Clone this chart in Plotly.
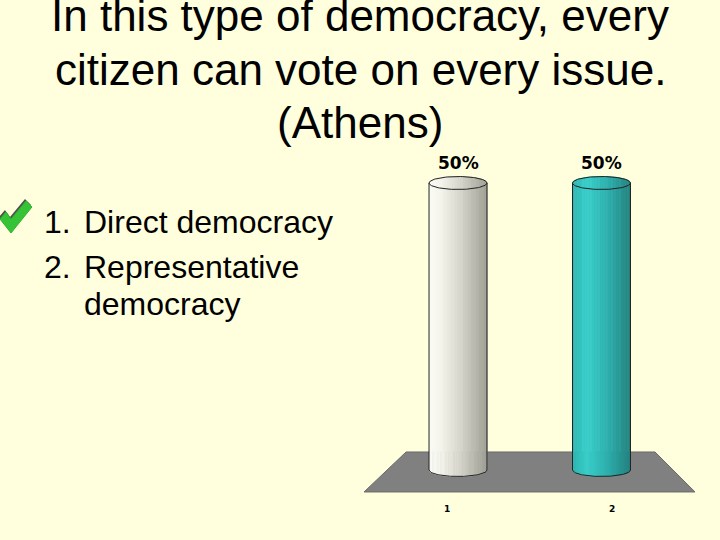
import numpy as np
import plotly.graph_objects as go

# slide content
title_lines = ["In this type of democracy, every",
               "citizen can vote on every issue.",
               "(Athens)"]
answer_nums = ["1.", "2."]
answer_lines = [["Direct democracy"], ["Representative", "democracy"]]

# chart data
categories = [1, 2]
cat_labels = ["1", "2"]
values = [50, 50]
value_labels = ["50%", "50%"]

BG = "#FFFFDD"
RADIUS = 0.202   # cylinder radius, category units
ELL_H = 1.13     # half height of the ellipse, value units
W, H = 720, 540


def interp_col(u, stops):
    for (u0, c0), (u1, c1) in zip(stops[:-1], stops[1:]):
        if u <= u1:
            t = (u - u0) / (u1 - u0)
            c = [round(a + (b - a) * t) for a, b in zip(c0, c1)]
            return "rgb(%d,%d,%d)" % tuple(c)
    return "rgb(%d,%d,%d)" % stops[-1][1]


def gray_col(u):
    # u in [-1, 1] across the cylinder
    return interp_col(u, [(-1, (252, 252, 247)), (-0.6, (244, 244, 236)),
                          (0.1, (212, 212, 202)), (1, (158, 158, 148))])


def teal_col(u):
    return interp_col(u, [(-1, (44, 182, 178)), (-0.5, (56, 206, 202)),
                          (0.2, (44, 176, 174)), (1, (34, 128, 126))])


def px_path(pts):
    # pixel points -> paper path
    s = " L ".join("%.4f %.4f" % (x / W, 1 - y / H) for x, y in pts)
    return "M " + s + " Z"


fig = go.Figure()

# floor of the 3d chart
fig.add_shape(type="path", xref="x", yref="y",
              path="M 0.638 3.14 L 2.373 3.14 L 2.652 -3.83 L 0.345 -3.83 Z",
              fillcolor="#808080", line=dict(color="#6a6a6a", width=1), layer="below")

colfuncs = [gray_col, teal_col]
n = 36
for cat, val, colf in zip(categories, values, colfuncs):
    edges = np.linspace(-1, 1, n + 1)
    for ua, ub in zip(edges[:-1], edges[1:]):
        uu = np.linspace(ua, ub, 3)
        s = np.sqrt(np.clip(1 - uu ** 2, 0, 1))
        xs = cat + RADIUS * uu
        xp = np.concatenate([xs, xs[::-1]])
        yp = np.concatenate([-ELL_H * s, (val + ELL_H * s)[::-1]])
        c = colf((ua + ub) / 2)
        fig.add_trace(go.Scatter(x=xp, y=yp, mode="lines", fill="toself",
                                 fillcolor=c, line=dict(color=c, width=1),
                                 hoverinfo="skip", showlegend=False))
    # outline
    t = np.linspace(0, 2 * np.pi, 120)
    fig.add_trace(go.Scatter(x=cat + RADIUS * np.cos(t), y=val + ELL_H * np.sin(t),
                             mode="lines", line=dict(color="#222222", width=1),
                             hoverinfo="skip", showlegend=False))
    ub = np.linspace(-1, 1, 60)
    fig.add_trace(go.Scatter(x=cat + RADIUS * ub, y=-ELL_H * np.sqrt(1 - ub ** 2),
                             mode="lines", line=dict(color="#222222", width=1),
                             hoverinfo="skip", showlegend=False))
    for side in (-1, 1):
        fig.add_trace(go.Scatter(x=[cat + side * RADIUS] * 2, y=[0, val],
                                 mode="lines", line=dict(color="#222222", width=1),
                                 hoverinfo="skip", showlegend=False))

# value labels above cylinders
for cat, val, lab in zip(categories, values, value_labels):
    fig.add_annotation(x=cat, y=val + ELL_H + 2.3, xref="x", yref="y", text="<b>%s</b>" % lab,
                       showarrow=False, font=dict(family="DejaVu Sans", size=17, color="black"))

# category labels under the floor (perspective spread)
for cat, lab in zip(categories, cat_labels):
    fig.add_annotation(x=1.5 + (cat - 1.5) * 1.15, y=-6.8, xref="x", yref="y", text="<b>%s</b>" % lab,
                       showarrow=False, font=dict(family="DejaVu Sans", size=9, color="black"))

# title
for i, line in enumerate(title_lines):
    fig.add_annotation(x=0.5, y=1 - (15 + 54 * i) / H, xref="paper", yref="paper",
                       text=line, showarrow=False, xanchor="center", yanchor="middle",
                       font=dict(family="Liberation Sans", size=44, color="black"))

# answer list
list_y = [[222], [267, 304]]
for num, lines, ys in zip(answer_nums, answer_lines, list_y):
    fig.add_annotation(x=42 / W, y=1 - ys[0] / H, xref="paper", yref="paper", text=num,
                       showarrow=False, xanchor="left", yanchor="middle",
                       font=dict(family="Liberation Sans", size=32, color="black"))
    for line, yy in zip(lines, ys):
        fig.add_annotation(x=82 / W, y=1 - yy / H, xref="paper", yref="paper", text=line,
                           showarrow=False, xanchor="left", yanchor="middle",
                           font=dict(family="Liberation Sans", size=32, color="black"))

# correct-answer check mark (icon, shadow then green)
check = [(0, 219), (6, 212), (11, 219), (26, 201), (32, 207), (11, 233)]
fig.add_shape(type="path", xref="paper", yref="paper",
              path=px_path([(x - 1, y - 2) for x, y in check]),
              fillcolor="#505050", line=dict(width=0))
fig.add_shape(type="path", xref="paper", yref="paper", path=px_path(check),
              fillcolor="#36C436", line=dict(color="#2fb52f", width=1))

fig.update_layout(
    width=W, height=H,
    margin=dict(l=0, r=0, t=0, b=0),
    paper_bgcolor=BG, plot_bgcolor=BG,
    showlegend=False,
    xaxis=dict(range=[-2.192, 2.826], visible=False, fixedrange=True),
    yaxis=dict(range=[-12.195, 81.88], visible=False, fixedrange=True),
)

fig.write_html("out.html", config={"displayModeBar": False},
               post_script="document.body.style.margin='0';")
